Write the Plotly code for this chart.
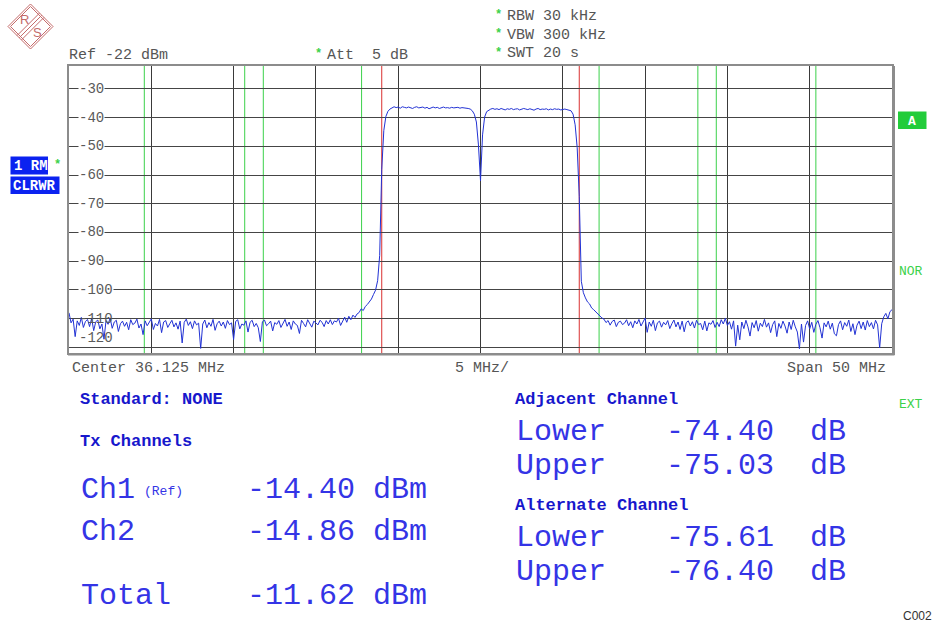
import numpy as np
import plotly.graph_objects as go

# ---------------- measurement data ----------------
CENTER_MHZ = 36.125
SPAN_MHZ = 50.0
SWEEP_STEP_MHZ = 0.125
REF_LEVEL_DBM = -22
DB_PER_DIV = 10

# trace segments: (first frequency in MHz, levels in dBm at each sweep point)
noise_lo_start = 11.125
noise_lo = [
    -108.0, -111.5, -110.2, -116.3, -110.8, -112.4, -109.6, -113.1, -111.0, -110.3,
    -112.8, -109.9, -114.2, -111.1, -110.5, -113.6, -111.9, -117.2, -110.7, -112.0,
    -109.8, -113.4, -111.2, -110.6, -114.5, -111.8, -110.9, -112.7, -111.3, -113.9,
    -110.4, -112.1, -111.6, -110.2, -113.3, -111.9, -115.6, -110.8, -112.5, -111.4,
    -110.1, -113.8, -111.7, -112.6, -110.3, -114.9, -111.2, -110.7, -113.1, -111.8,
    -110.6, -112.9, -111.5, -113.7, -110.9, -118.5, -111.3, -110.2, -112.4, -111.1,
    -113.5, -110.8, -112.2, -111.6, -120.4, -111.9, -110.5, -113.2, -111.4, -112.7,
    -110.3, -114.1, -111.8, -110.9, -112.6, -111.2, -113.4, -110.7, -112.1, -111.5,
    -117.3, -111.0, -110.4, -113.6, -111.9, -112.3, -110.8, -114.7, -111.3, -110.6,
    -112.8, -111.7, -113.2, -118.0, -111.1, -110.5, -112.5, -111.8, -110.9, -114.3,
    -111.4, -112.0, -110.7, -113.1, -111.6, -110.3, -112.7, -111.2, -113.8, -110.8,
    -111.9, -112.4, -115.2, -110.6, -111.7, -112.9, -110.4, -111.8, -113.0, -110.9,
    -111.5, -112.2, -110.6, -111.3, -112.8, -110.7, -111.9, -110.4, -112.1, -110.8,
    -111.2, -109.9, -112.4, -110.6, -109.5, -111.3, -109.2, -110.4, -108.8, -109.6,
]
skirt_lo_start = 28.625
skirt_lo = [
    -108.4, -107.9, -106.6, -107.2, -105.8, -105.1, -104.0, -103.2, -101.6, -100.1,
    -96.8, -88.0, -58.0, -44.5, -39.6, -37.8, -37.0,
]
ch1_start = 30.75
ch1 = [
    -36.6, -36.2, -36.5, -36.3, -36.7, -36.2, -36.4, -36.6, -36.3, -36.5,
    -36.8, -36.4, -36.2, -36.6, -36.5, -36.3, -36.7, -36.4, -36.9, -36.5,
    -36.3, -36.6, -36.4, -36.8, -36.5, -36.3, -36.6, -36.5, -36.7, -36.4,
    -36.6, -36.5, -36.4, -36.7, -36.5, -36.6, -36.6, -36.8, -37.0, -37.6,
]
dip_start = 35.75
dip = [-38.8, -41.5, -49.5, -62.0, -46.0, -39.8, -37.9]
ch2_start = 36.625
ch2 = [
    -37.4, -37.0, -36.8, -37.1, -36.9, -37.2, -36.8, -37.0, -37.3, -36.9,
    -37.1, -36.8, -37.2, -37.0, -36.9, -37.3, -37.1, -36.8, -37.0, -37.2,
    -36.9, -37.1, -37.4, -37.0, -36.8, -37.2, -37.0, -37.1, -36.9, -37.3,
    -37.0, -37.2, -36.9, -37.1, -37.0, -37.3, -37.1, -37.0, -37.2, -37.3,
    -37.6,
]
skirt_hi_start = 41.75
skirt_hi = [
    -38.8, -42.5, -50.5, -67.5, -97.0, -101.0, -102.8, -104.2, -104.9, -106.3,
    -106.9, -107.6, -108.4, -109.3, -109.8,
]
noise_hi_start = 43.625
noise_hi = [
    -110.2, -111.4, -110.7, -112.3, -111.0, -110.5, -112.8, -111.3, -110.9, -112.1,
    -111.6, -110.4, -112.5, -111.1, -113.2, -110.8, -111.9, -110.3, -112.6, -111.4,
    -109.8, -114.8, -111.2, -112.7, -110.6, -114.2, -111.5, -110.9, -113.0, -111.3,
    -112.2, -110.7, -113.5, -111.8, -110.5, -112.9, -111.2, -113.8, -110.9, -114.6,
    -111.4, -110.8, -112.6, -111.1, -113.3, -110.6, -112.1, -111.7, -113.9, -110.9,
    -114.3, -111.5, -112.0, -110.7, -113.1, -111.3, -112.8, -110.4, -111.9, -109.9,
    -112.4, -111.1, -113.7, -110.8, -119.6, -112.3, -117.4, -111.2, -113.5, -110.6,
    -112.9, -116.1, -111.4, -113.2, -110.7, -114.4, -111.6, -112.8, -110.3, -113.0,
    -111.5, -114.9, -112.1, -110.8, -116.3, -111.7, -113.4, -110.9, -112.6, -115.1,
    -111.2, -113.8, -110.6, -112.9, -114.7, -120.5, -111.9, -118.2, -112.4, -110.8,
    -113.6, -111.3, -114.8, -112.0, -110.7, -113.2, -116.8, -111.5, -112.9, -110.9,
    -113.7, -111.6, -115.3, -116.0, -112.1, -110.8, -113.9, -111.4, -112.7, -110.5,
    -114.5, -111.8, -115.6, -112.3, -110.9, -113.5, -111.2, -114.0, -110.7, -112.8,
    -111.4, -113.6, -110.6, -112.2, -120.2, -111.8, -109.4, -108.2, -110.1, -107.6,
    -106.9,
]

# channel limit lines (MHz)
tx_limits_mhz = [30.125, 36.125, 42.125]
adj_limits_mhz = [22.93, 28.9, 43.33, 49.33]
alt_limits_mhz = [15.7, 21.8, 50.45, 56.5]

y_tick_values = [-30, -40, -50, -60, -70, -80, -90, -100, -110, -120]

# result table
tx_names = ["Ch1", "Ch2"]
tx_power = ["-14.40", "-14.86"]
total_power = "-11.62"
adj_lower, adj_upper = "-74.40", "-75.03"
alt_lower, alt_upper = "-75.61", "-76.40"

# ---------------- trace assembly ----------------
segments = [
    (noise_lo_start, noise_lo), (skirt_lo_start, skirt_lo), (ch1_start, ch1),
    (dip_start, dip), (ch2_start, ch2), (skirt_hi_start, skirt_hi),
    (noise_hi_start, noise_hi),
]
freq, level = [], []
for f0, vals in segments:
    freq.extend(f0 + SWEEP_STEP_MHZ * np.arange(len(vals)))
    level.extend(vals)

f_start = CENTER_MHZ - SPAN_MHZ / 2
f_stop = CENTER_MHZ + SPAN_MHZ / 2
y_bottom = REF_LEVEL_DBM - 10 * DB_PER_DIV

# ---------------- page geometry (pixels) ----------------
W_PX, H_PX = 935, 623
L, R, T, B = 69, 892, 66, 353
PW, PH = R - L, B - T


def px(x):
    return (x - L) / PW


def py(y):
    return (B - y) / PH


MONO = "Courier New, Liberation Mono, Cousine, monospace"
NB = "\u00a0"
GRAY_TXT = "#555555"
BLUE_TXT = "#3434e6"
BLUE_BOLD = "#1717cc"
GREEN = "#3bd14a"
RED = "#d93030"

fig = go.Figure()
fig.add_trace(go.Scatter(
    x=freq, y=level, mode="lines",
    line=dict(color="#2232d4", width=1),
    hoverinfo="skip", showlegend=False,
))

shapes = []
for f in alt_limits_mhz + adj_limits_mhz:
    shapes.append(dict(type="line", xref="x", yref="paper", x0=f, x1=f, y0=0, y1=1,
                       line=dict(color=GREEN, width=1), layer="between"))
for f in tx_limits_mhz:
    shapes.append(dict(type="line", xref="x", yref="paper", x0=f, x1=f, y0=0, y1=1,
                       line=dict(color=RED, width=1), layer="between"))

# outer frame lines (double border on right and bottom)
shapes.append(dict(type="line", xref="paper", yref="paper", x0=px(894.5), x1=px(894.5),
                   y0=py(355), y1=py(66), line=dict(color="#8c8c8c", width=1)))
shapes.append(dict(type="line", xref="paper", yref="paper", x0=px(68), x1=px(894.5),
                   y0=py(355), y1=py(355), line=dict(color="#8c8c8c", width=1)))

# R&S logo
cx, cy, r = 30.5, 26.5, 22.5
logo_col = "#c46a6a"
for rr in (r, r - 2.5):
    shapes.append(dict(
        type="path", xref="paper", yref="paper",
        path=(f"M {px(cx)},{py(cy - rr)} L {px(cx + rr)},{py(cy)} "
              f"L {px(cx)},{py(cy + rr)} L {px(cx - rr)},{py(cy)} Z"),
        line=dict(color=logo_col, width=1),
    ))
for off in (-2.2, 0, 2.2):
    x0, y0 = cx - r / 2 + off, cy + r / 2 + off
    x1, y1 = cx + r / 2 + off, cy - r / 2 + off
    shapes.append(dict(type="line", xref="paper", yref="paper",
                       x0=px(x0), y0=py(y0), x1=px(x1), y1=py(y1),
                       line=dict(color=logo_col, width=1)))

# status boxes
def box(x0, y0, x1, y1, color):
    shapes.append(dict(type="rect", xref="paper", yref="paper",
                       x0=px(x0), x1=px(x1), y0=py(y1), y1=py(y0),
                       fillcolor=color, line=dict(width=0)))


BOX_BLUE = "#0b22f0"
box(10.5, 156.5, 48, 174.5, BOX_BLUE)
box(10.5, 176.5, 59.5, 194, BOX_BLUE)
box(898, 111.5, 926.5, 129, "#22cc3a")

annotations = []


def text(s, x, y, size=15, color=GRAY_TXT, bold=False, family=MONO, anchor="left"):
    if bold:
        s = f"<b>{s}</b>"
    annotations.append(dict(
        text=s.replace("  ", NB + NB), xref="paper", yref="paper",
        x=px(x), y=py(y), xanchor=anchor, yanchor="middle", showarrow=False,
        font=dict(family=family, size=size, color=color), borderpad=0,
    ))


# logo letters
text("R", 24, 20, size=13, color=logo_col, family="Liberation Sans, Arial", anchor="center")
text("S", 37, 32, size=13, color=logo_col, family="Liberation Sans, Arial", anchor="center")

# header settings
text("Ref -22 dBm", 68, 55)
text("*", 314, 54, size=12, color=GREEN, bold=True)
text("Att  5 dB", 326, 55)
text("*", 494, 15, size=12, color=GREEN, bold=True)
text("RBW 30 kHz", 506, 16)
text("*", 494, 34, size=12, color=GREEN, bold=True)
text("VBW 300 kHz", 506, 35)
text("*", 494, 53, size=12, color=GREEN, bold=True)
text("SWT 20 s", 506, 54)

# frequency axis captions
text("Center 36.125 MHz", 71, 368)
text("5 MHz/", 454, 368)
text("Span 50 MHz", 887, 368, anchor="right")

# trace / status indicators
text("1 RM", 12.5, 166, size=14, color="white", bold=True)
text("*", 53, 165, size=12, color=GREEN, bold=True)
text("CLRWR", 12, 186, size=14, color="white", bold=True)
text("A", 912, 121, size=13, color="white", bold=True, anchor="center")
text("NOR", 898, 271, size=13, color=GREEN)
text("EXT", 898, 404, size=13, color=GREEN)

# level tick labels inside the grid
for v in y_tick_values:
    masked = v > -110
    annotations.append(dict(
        text=str(v), xref="paper", yref="y", x=px(77.5), y=v,
        xanchor="left", yanchor="middle", showarrow=False,
        yshift=9 if v == -120 else 0,
        font=dict(family=MONO, size=14, color="#5a5a5a"),
        bgcolor="white" if masked else "rgba(0,0,0,0)", borderpad=0,
    ))

# channel power results
text("Standard: NONE", 79, 399, size=17, color=BLUE_BOLD, bold=True)
text("Tx Channels", 79, 442, size=17, color=BLUE_BOLD, bold=True)
row_y = [490, 532]
for name, pw, yy in zip(tx_names, tx_power, row_y):
    text(name, 80, yy, size=30, color=BLUE_TXT)
    text(f"{pw} dBm", 246, yy, size=30, color=BLUE_TXT)
text("(Ref)", 143, 491, size=13, color=BLUE_TXT)
text("Total", 80, 596, size=30, color=BLUE_TXT)
text(f"{total_power} dBm", 246, 596, size=30, color=BLUE_TXT)

text("Adjacent Channel", 514, 399, size=17, color=BLUE_BOLD, bold=True)
text("Lower", 515, 432, size=30, color=BLUE_TXT)
text(f"{adj_lower}  dB", 665, 432, size=30, color=BLUE_TXT)
text("Upper", 515, 466, size=30, color=BLUE_TXT)
text(f"{adj_upper}  dB", 665, 466, size=30, color=BLUE_TXT)
text("Alternate Channel", 514, 505, size=17, color=BLUE_BOLD, bold=True)
text("Lower", 515, 538, size=30, color=BLUE_TXT)
text(f"{alt_lower}  dB", 665, 538, size=30, color=BLUE_TXT)
text("Upper", 515, 572, size=30, color=BLUE_TXT)
text(f"{alt_upper}  dB", 665, 572, size=30, color=BLUE_TXT)

text("C002", 933, 616, size=12, color="#333333", family="Liberation Sans, Arial", anchor="right")

fig.update_layout(
    width=W_PX, height=H_PX, autosize=False,
    margin=dict(l=L, r=W_PX - R, t=T, b=H_PX - B, pad=0),
    paper_bgcolor="white", plot_bgcolor="white",
    showlegend=False,
    shapes=shapes, annotations=annotations,
    xaxis=dict(
        range=[f_start, f_stop], tick0=f_start, dtick=SPAN_MHZ / 10,
        showticklabels=False, ticks="", showgrid=True, gridcolor="#3a3a3a", gridwidth=1,
        zeroline=False, showline=True, mirror=True, linecolor="#8c8c8c", linewidth=2,
        fixedrange=True,
    ),
    yaxis=dict(
        range=[y_bottom, REF_LEVEL_DBM], tickvals=y_tick_values,
        showticklabels=False, ticks="", showgrid=True, gridcolor="#454545", gridwidth=1,
        zeroline=False, showline=True, mirror=True, linecolor="#8c8c8c", linewidth=2,
        fixedrange=True,
    ),
)

fig.write_html("out.html")
